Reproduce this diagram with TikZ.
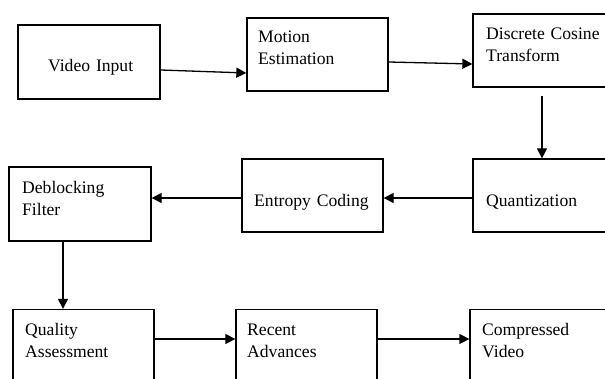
\documentclass[tikz,border=0pt]{standalone}
\usepackage{fontspec}
\setmainfont{Liberation Serif}
\usetikzlibrary{arrows.meta}
\begin{document}
\begin{tikzpicture}[x=1pt,y=-1pt,
  box/.style={draw, line width=1.3pt, minimum width=141pt, minimum height=73pt, inner sep=0pt},
  lbl/.style={inner sep=0pt, anchor=base west, text width=135pt, align=left,
              font=\fontsize{17.6pt}{22pt}\selectfont},
  arr/.style={draw, line width=1.3pt, -{Triangle[length=10pt,width=10pt]}}]
\useasboundingbox (0,0) rectangle (605,379);
\clip (0,0) rectangle (605,379);
\fill[white] (0,0) rectangle (605,379);

% boxes, row 1
\node[box, minimum width=142pt, minimum height=74pt] (vin) at (89,62) {};
\node[box] (me) at (317.5,54.5) {};
\node[box] (dct) at (543.5,50.5) {};
% row 2
\node[box] (qz) at (543.5,195.5) {};
\node[box] (ec) at (312.5,195.5) {};
\node[box, minimum width=142pt, minimum height=74pt] (df) at (80,204) {};
% row 3
\node[box] (qa) at (83.5,346) {};
\node[box] (ra) at (306.5,346) {};
\node[box] (cv) at (540.5,346) {};

% labels
\node[lbl] (tvin) at (48,71.5) {Video Input};
\node[lbl] (tme) at (258,43) {Motion\\Estimation};
\node[lbl] (tdct) at (486,40) {Discrete Cosine\\Transform};
\node[lbl] (tqz) at (486,206.5) {Quantization};
\node[lbl] (tec) at (254,206.5) {Entropy Coding};
\node[lbl] (tdf) at (22,194) {Deblocking\\Filter};
\node[lbl] (tqa) at (25,335) {Quality\\Assessment};
\node[lbl] (tra) at (247,335) {Recent\\Advances};
\node[lbl] (tcv) at (482,335) {Compressed\\Video};

% connectors
\path[arr] ([yshift=-8pt]vin.east) -- ([yshift=-18.5pt]me.west);
\path[arr] ([yshift=-7.5pt]me.east) -- ([yshift=-13.5pt]dct.west);
\path[arr] ([xshift=-1.5pt,yshift=-8pt]dct.south) -- ([xshift=-1.5pt]qz.north);
\path[arr] ([yshift=-2.5pt]qz.west) -- ([yshift=-2.5pt]ec.east);
\path[arr] ([yshift=-2.5pt]ec.west) -- ([yshift=6pt]df.east);
\path[arr] ([xshift=-17pt]df.south) -- ([xshift=-17pt]df.south |- qa.north);
\path[arr] ([yshift=7pt]qa.east) -- ([yshift=7pt]ra.west);
\path[arr] ([yshift=7pt]ra.east) -- ([yshift=7pt]cv.west);
\end{tikzpicture}
\end{document}
